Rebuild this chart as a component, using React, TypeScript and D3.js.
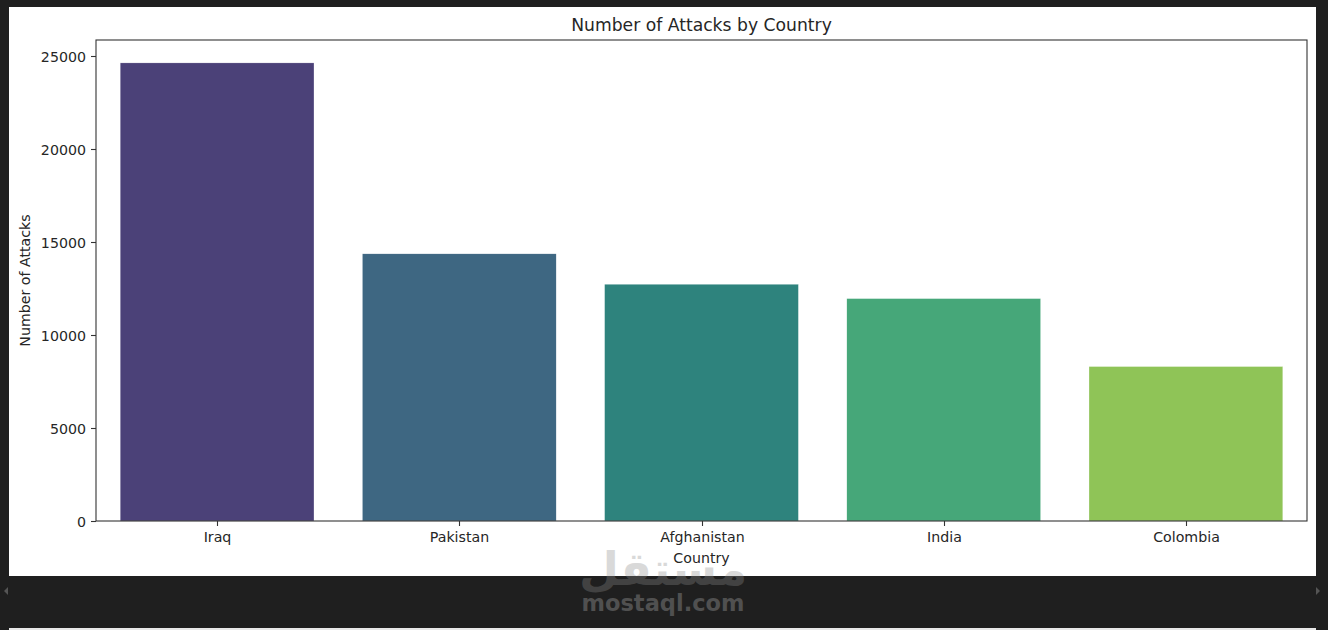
import React, { useEffect, useRef } from "react";
import * as d3 from "d3";

const categories = ["Iraq", "Pakistan", "Afghanistan", "India", "Colombia"];
const attacks = [24636, 14368, 12731, 11960, 8306];
const barColors = ["#4b4178", "#3e6782", "#2e837d", "#46a779", "#8fc457"];
const yTicks = [0, 5000, 10000, 15000, 20000, 25000];

const W = 1328;
const H = 630;
const M = { left: 96, right: 1307, top: 40, bottom: 521 };
const FONT = "DejaVu Sans, sans-serif";
const TICK_FS = 14.2;

export default function App() {
  const ref = useRef<SVGSVGElement>(null);

  useEffect(() => {
    const svg = d3.select(ref.current);
    svg.selectAll("*").remove();

    // background frame
    svg.append("rect").attr("width", W).attr("height", H).attr("fill", "#1f1f1f");
    svg.append("rect").attr("x", 9).attr("y", 7).attr("width", 1307).attr("height", 569).attr("fill", "#ffffff");
    svg.append("rect").attr("x", 9).attr("y", 628).attr("width", 1307).attr("height", 2).attr("fill", "#e8e8e8");
    // scroll arrows
    svg.append("path").attr("d", "M8,587 L4,591 L8,595 Z").attr("fill", "#555");
    svg.append("path").attr("d", "M1316,587 L1320,591 L1316,595 Z").attr("fill", "#555");

    const x = d3.scaleBand<string>().domain(categories).range([M.left, M.right]).paddingInner(0.2).paddingOuter(0.1);
    const yMax = d3.max(attacks)! * 1.05;
    const y = d3.scaleLinear().domain([0, yMax]).range([M.bottom, M.top]);

    const g = svg.append("g");

    g.selectAll("rect.bar")
      .data(categories)
      .enter()
      .append("rect")
      .attr("class", "bar")
      .attr("x", (d) => x(d)!)
      .attr("width", x.bandwidth())
      .attr("y", (_, i) => y(attacks[i]))
      .attr("height", (_, i) => M.bottom - y(attacks[i]))
      .attr("fill", (_, i) => barColors[i])
      .attr("stroke", "#ffffff")
      .attr("stroke-width", 0.4)
      .attr("stroke-opacity", 0.6);

    // axes frame
    g.append("rect")
      .attr("x", M.left)
      .attr("y", M.top)
      .attr("width", M.right - M.left)
      .attr("height", M.bottom - M.top)
      .attr("fill", "none")
      .attr("stroke", "#333")
      .attr("stroke-width", 1.1);

    // y axis ticks
    yTicks.forEach((t) => {
      const yy = Math.round(y(t)) + 0.5;
      g.append("line").attr("x1", M.left - 5).attr("x2", M.left).attr("y1", yy).attr("y2", yy).attr("stroke", "#333").attr("stroke-width", 1.1);
      g.append("text")
        .attr("x", M.left - 10)
        .attr("y", yy)
        .attr("dy", "0.36em")
        .attr("text-anchor", "end")
        .attr("font-family", FONT)
        .attr("font-size", TICK_FS)
        .attr("fill", "#262626")
        .text(String(t));
    });

    // x axis ticks
    categories.forEach((c) => {
      const xx = Math.round(x(c)! + x.bandwidth() / 2) + 0.5;
      g.append("line").attr("x1", xx).attr("x2", xx).attr("y1", M.bottom).attr("y2", M.bottom + 5).attr("stroke", "#333").attr("stroke-width", 1.1);
      g.append("text")
        .attr("x", xx)
        .attr("y", 542)
        .attr("text-anchor", "middle")
        .attr("font-family", FONT)
        .attr("font-size", TICK_FS)
        .attr("fill", "#262626")
        .text(c);
    });

    // axis labels
    g.append("text")
      .attr("x", (M.left + M.right) / 2)
      .attr("y", 563)
      .attr("text-anchor", "middle")
      .attr("font-family", FONT)
      .attr("font-size", TICK_FS)
      .attr("fill", "#262626")
      .text("Country");
    g.append("text")
      .attr("transform", `translate(30,${(M.top + M.bottom) / 2}) rotate(-90)`)
      .attr("text-anchor", "middle")
      .attr("font-family", FONT)
      .attr("font-size", TICK_FS)
      .attr("fill", "#262626")
      .text("Number of Attacks");

    // title
    g.append("text")
      .attr("x", (M.left + M.right) / 2)
      .attr("y", 31)
      .attr("text-anchor", "middle")
      .attr("font-family", FONT)
      .attr("font-size", 17.2)
      .attr("fill", "#262626")
      .text("Number of Attacks by Country");

    // watermark
    const wm = svg.append("g");
    wm.append("text")
      .attr("x", 663)
      .attr("y", 585)
      .attr("text-anchor", "middle")
      .attr("font-family", "DejaVu Sans, sans-serif")
      .attr("font-weight", "bold")
      .attr("font-size", 46)
      .attr("fill", "#8c8c8c")
      .attr("opacity", 0.32)
      .text("مستقل");
    wm.append("text")
      .attr("x", 663)
      .attr("y", 611)
      .attr("text-anchor", "middle")
      .attr("font-family", "DejaVu Sans, sans-serif")
      .attr("font-weight", "bold")
      .attr("font-size", 22.5)
      .attr("fill", "#8c8c8c")
      .attr("opacity", 0.45)
      .text("mostaql.com");
  }, []);

  return (
    <div style={{ position: "fixed", left: 0, top: 0, width: W, height: H }}>
      <svg ref={ref} width={W} height={H} style={{ display: "block" }} />
    </div>
  );
}
